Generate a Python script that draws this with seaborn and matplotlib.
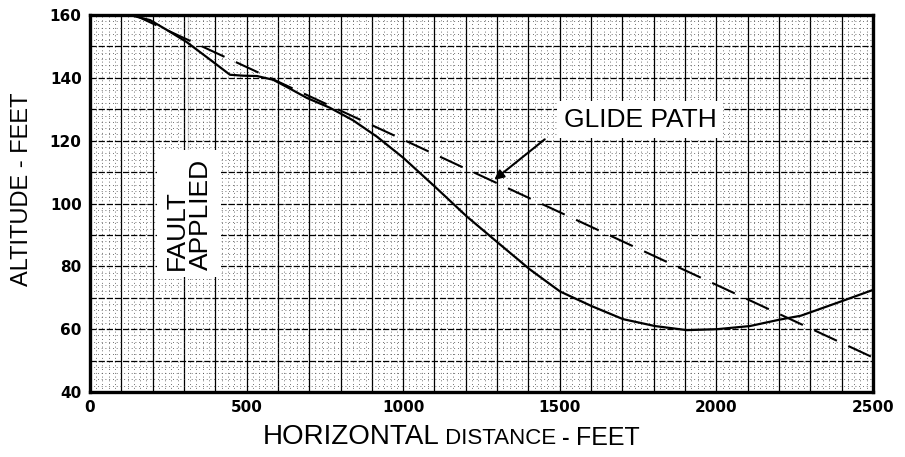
import numpy as np
import pandas as pd
import seaborn as sns
import matplotlib.pyplot as plt
from matplotlib.ticker import MultipleLocator, FuncFormatter

# altitude trace after the fault
dist_ft = [128, 192, 250, 309, 393, 447, 490, 533, 585, 640, 693, 766, 840, 916, 1000, 1100,
           1203, 1309, 1405, 1501, 1603, 1702, 1804, 1906, 2002, 2107, 2200, 2270, 2400, 2500]
alt_ft = [160, 158.4, 155, 151.4, 145.1, 141, 140.7, 140.6, 139.4, 136.5, 133.6, 130.5, 126.5, 121.3,
          114.6, 105.5, 95.9, 87, 79, 72, 67.3, 63.2, 61, 59.7, 60, 61, 63, 64.3, 68.9, 72.5]

# nominal glide path (straight dashed line)
glide_x = [140, 2500]
glide_y = [160.1, 51]

# marker line where the fault was applied
fault_x = [313, 313]
fault_y = [160, 115]

sns.set_style("white")
plt.rcParams["font.family"] = ["Liberation Sans", "DejaVu Sans"]
plt.rcParams["text.color"] = "black"

fig = plt.figure(figsize=(9.05, 4.57), dpi=100)
ax = fig.add_axes([0.0994, 0.1422, 0.8652, 0.8248])

df = pd.DataFrame({"x": dist_ft, "y": alt_ft})
sns.lineplot(data=df, x="x", y="y", ax=ax, color="black", lw=1.6, zorder=5)
gp = sns.lineplot(x=glide_x, y=glide_y, ax=ax, color="black", lw=1.5, zorder=5)
gp.lines[-1].set_dashes((12, 6))
sns.lineplot(x=fault_x, y=fault_y, ax=ax, color="black", lw=2.3, zorder=5)

ax.set_xlim(0, 2500)
ax.set_ylim(40, 160)

# graph-paper grid
ax.xaxis.set_major_locator(MultipleLocator(100))
ax.xaxis.set_minor_locator(MultipleLocator(20))
ax.yaxis.set_major_locator(MultipleLocator(10))
ax.yaxis.set_minor_locator(MultipleLocator(2))
ax.xaxis.set_major_formatter(FuncFormatter(lambda v, p: f"{int(v)}" if int(round(v)) % 500 == 0 else ""))
ax.yaxis.set_major_formatter(FuncFormatter(lambda v, p: f"{int(v)}" if int(round(v)) % 20 == 0 else ""))
ax.grid(axis="x", which="major", color="black", lw=0.9, ls="-")
ax.grid(axis="y", which="major", color="black", lw=0.9, ls=(0, (5, 1.5)))
ax.grid(which="minor", color="#444444", lw=0.6, ls=(0, (1, 3.5)))
ax.set_axisbelow(True)
ax.tick_params(which="both", length=0, pad=6, labelcolor="black")
for lab in ax.get_xticklabels() + ax.get_yticklabels():
    lab.set_fontfamily("DejaVu Sans")
    lab.set_fontweight("bold")
    lab.set_fontsize(11)
for s in ax.spines.values():
    s.set_color("black")
    s.set_linewidth(2.4)
ax.set_xlabel("")
ax.set_ylabel("")

# annotations
ax.text(316, 79, "FAULT\nAPPLIED", rotation=90, ha="center", va="bottom",
        multialignment="left", fontsize=19, linespacing=1.0, zorder=4,
        bbox=dict(boxstyle="square,pad=0.3", fc="white", ec="none"))
ax.text(1756, 126.7, "GLIDE PATH", ha="center", va="center", fontsize=19, zorder=4,
        bbox=dict(boxstyle="square,pad=0.25", fc="white", ec="none"))
ax.annotate("", xy=(1284, 107), xytext=(1459, 121), zorder=6,
            arrowprops=dict(arrowstyle="-|>", color="black", lw=1.5, mutation_scale=14))

# axis labels (x label uses small caps for DISTANCE)
fig.text(0.024, 0.585, "ALTITUDE - FEET", rotation=90, ha="center", va="center", fontsize=17)
t1 = fig.text(0.29, 0.015, "HORIZONTAL", fontsize=20, ha="left", va="bottom")
t2 = ax.annotate(" DISTANCE", xy=(1, 0.06), xycoords=t1, fontsize=16, ha="left", va="bottom",
                 annotation_clip=False)
t3 = ax.annotate(" - ", xy=(1, 0.0), xycoords=t2, fontsize=16, fontweight="bold", ha="left",
                 va="bottom", annotation_clip=False)
ax.annotate("FEET", xy=(1, -0.05), xycoords=t3, fontsize=18, ha="left", va="bottom",
            annotation_clip=False)

fig.savefig("out.png", dpi=100)
